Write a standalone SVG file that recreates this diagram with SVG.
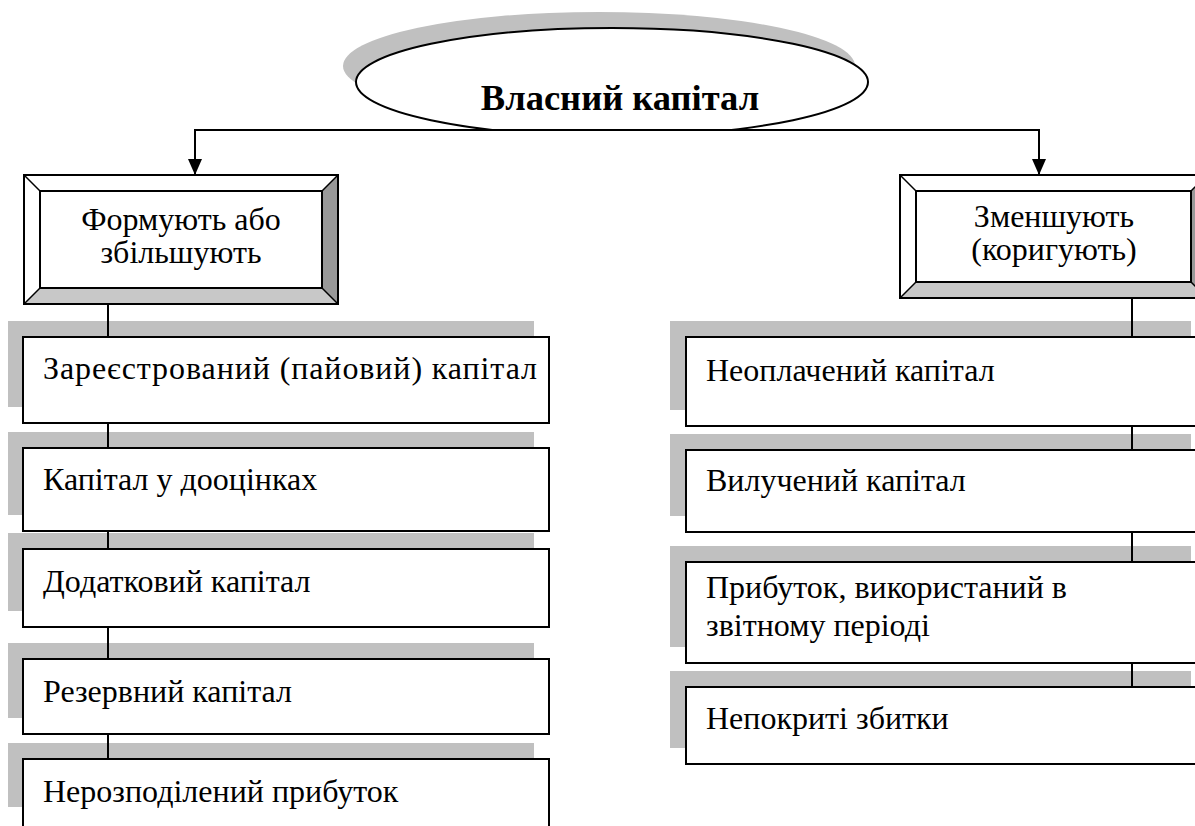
<svg xmlns="http://www.w3.org/2000/svg" width="1195" height="826" viewBox="0 0 1195 826">
<defs>
<style>
text{font-family:"Liberation Serif","Times New Roman","DejaVu Serif",serif;fill:#000}
.t{font-size:32px}
.title{font-size:36.5px;font-weight:bold}
.box{fill:#fff;stroke:#000;stroke-width:2}
.sh{fill:#c0c0c0}
.conn{stroke:#000;stroke-width:2;fill:none}
.bv{stroke:#000;stroke-width:1.5}
</style>
<marker id="arr" viewBox="0 0 16 14" refX="16" refY="7" markerWidth="16" markerHeight="14" markerUnits="userSpaceOnUse" orient="auto">
<path d="M0,0 L16,7 L0,14 z" fill="#000"/>
</marker>
<clipPath id="clipTop"><rect x="0" y="0" width="1195" height="131"/></clipPath>
</defs>
<rect width="1195" height="826" fill="#fff"/>

<g id="root">
<g clip-path="url(#clipTop)">
<ellipse cx="599" cy="66" rx="256" ry="54" fill="#c0c0c0"/>
<ellipse cx="612" cy="82" rx="256" ry="54" fill="#fff" stroke="#000" stroke-width="2"/>
</g>
<text class="title" x="620" y="110" text-anchor="middle">Власний капітал</text>
</g>

<g id="connectors">
<polyline class="conn" points="195,160 195,130 1039,130 1039,160" />
<line class="conn" x1="195" y1="150" x2="195" y2="175" marker-end="url(#arr)"/>
<line class="conn" x1="1039" y1="150" x2="1039" y2="175" marker-end="url(#arr)"/>
</g>

<g id="shadows">
<rect class="sh" x="8" y="321" width="526" height="86"/>
<rect class="sh" x="8" y="432" width="526" height="83"/>
<rect class="sh" x="8" y="533" width="526" height="78"/>
<rect class="sh" x="8" y="643" width="526" height="75"/>
<rect class="sh" x="8" y="743" width="526" height="64"/>
<rect class="sh" x="670" y="321" width="521" height="89"/>
<rect class="sh" x="670" y="434" width="521" height="82"/>
<rect class="sh" x="670" y="546" width="521" height="101"/>
<rect class="sh" x="670" y="671" width="521" height="77"/>
</g>

<g id="list-connectors">
<line class="conn" x1="108" y1="304" x2="108" y2="759" stroke-width="1.5"/>
<line class="conn" x1="1132" y1="298" x2="1132" y2="687" stroke-width="1.5"/>
</g>

<g id="grow">
<polygon points="24,175 338,175 322,191 40,191" fill="#fff"/>
<polygon points="24,175 40,191 40,288 24,304" fill="#fff"/>
<polygon points="338,175 338,304 322,288 322,191" fill="#999"/>
<polygon points="24,304 338,304 322,288 40,288" fill="#c8c8c8"/>
<rect x="24" y="175" width="314" height="129" fill="none" stroke="#000" stroke-width="2"/>
<rect x="40" y="191" width="282" height="97" fill="#fff" stroke="#000" stroke-width="2"/>
<path class="bv" d="M24,175 L40,191 M338,175 L322,191 M24,304 L40,288 M338,304 L322,288"/>
<text class="t" x="181" y="230" text-anchor="middle">Формують або</text>
<text class="t" x="181" y="263" text-anchor="middle">збільшують</text>
</g>

<g id="reduce">
<polygon points="900,175 1207,175 1191,191 916,191" fill="#fff"/>
<polygon points="900,175 916,191 916,282 900,298" fill="#fff"/>
<polygon points="1207,175 1207,298 1191,282 1191,191" fill="#999"/>
<polygon points="900,298 1207,298 1191,282 916,282" fill="#c8c8c8"/>
<rect x="900" y="175" width="307" height="123" fill="none" stroke="#000" stroke-width="2"/>
<rect x="916" y="191" width="275" height="91" fill="#fff" stroke="#000" stroke-width="2"/>
<path class="bv" d="M900,175 L916,191 M1207,175 L1191,191 M900,298 L916,282 M1207,298 L1191,282"/>
<text class="t" x="1054" y="227" text-anchor="middle">Зменшують</text>
<text class="t" x="1054" y="260" text-anchor="middle">(коригують)</text>
</g>

<g id="registered">
<rect class="box" x="23" y="337" width="526" height="86"/>
<text class="t" x="43" y="379" textLength="494" lengthAdjust="spacing">Зареєстрований (пайовий) капітал</text>
</g>
<g id="revaluation">
<rect class="box" x="23" y="448" width="526" height="83"/>
<text class="t" x="43" y="490">Капітал у дооцінках</text>
</g>
<g id="additional">
<rect class="box" x="23" y="549" width="526" height="78"/>
<text class="t" x="43" y="592">Додатковий капітал</text>
</g>
<g id="reserve">
<rect class="box" x="23" y="659" width="526" height="75"/>
<text class="t" x="43" y="702">Резервний капітал</text>
</g>
<g id="retained">
<rect class="box" x="23" y="759" width="526" height="80"/>
<text class="t" x="43" y="802">Нерозподілений прибуток</text>
</g>

<g id="unpaid">
<rect class="box" x="686" y="337" width="521" height="89"/>
<text class="t" x="706" y="381">Неоплачений капітал</text>
</g>
<g id="withdrawn">
<rect class="box" x="686" y="450" width="521" height="82"/>
<text class="t" x="706" y="491">Вилучений капітал</text>
</g>
<g id="profit-used">
<rect class="box" x="686" y="562" width="521" height="101"/>
<text class="t" x="706" y="598">Прибуток, використаний в</text>
<text class="t" x="706" y="636">звітному періоді</text>
</g>
<g id="losses">
<rect class="box" x="686" y="687" width="521" height="77"/>
<text class="t" x="706" y="729">Непокриті збитки</text>
</g>
</svg>
